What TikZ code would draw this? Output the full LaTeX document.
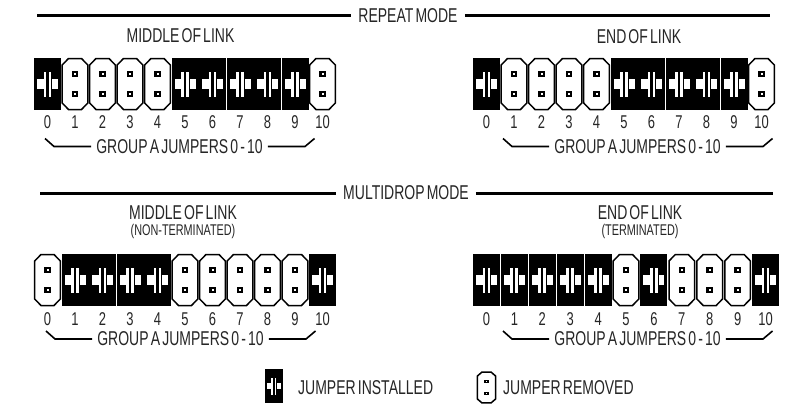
\documentclass[tikz,border=0pt]{standalone}
\usepackage{fontspec}
\setmainfont[FakeStretch=0.70,WordSpace=0.55]{Liberation Sans}
\tikzset{
  x=1pt,y=-1pt,
  rule/.style={line width=3pt,black},
  brack/.style={line width=1.6pt,black},
  lab/.style={inner sep=0pt,font=\fontsize{20}{20}\selectfont,text=black!85},
  sublab/.style={inner sep=0pt,font=\fontsize{15.5}{16}\selectfont,text=black!85},
  num/.style={inner sep=0pt,font=\fontsize{18.5}{18.5}\selectfont,text=black!85},
  Jon/.pic={
    \fill[black] (-13.5,-26) rectangle (13.5,26);
    \fill[white] (-10.5,-5) rectangle (-1.2,4.5);
    \fill[white] (-4,-12) rectangle (-1.2,13);
    \fill[white] (1,-12) rectangle (3.6,13);
    \fill[white] (4.6,-5) rectangle (10.5,4.5);
  },
  Joff/.pic={
    \draw[line width=1.5pt,draw=black,fill=white] (-6.5,-25.5) -- (6.5,-25.5) -- (12.8,-19) -- (12.8,19) -- (6.5,25.5) -- (-6.5,25.5) -- (-12.8,19) -- (-12.8,-19) -- cycle;
    \fill[black] (-3.3,-13.3) rectangle (3.3,-7.3);
    \fill[black] (-3.3,7) rectangle (3.3,13);
    \fill[white] (-1,-11.2) rectangle (1,-9.4);
    \fill[white] (-1,9.1) rectangle (1,10.9);
  }
}
\newcommand{\jrow}[6]{%
  % #1 prefix, #2 x0, #3 pitch, #4 y centre, #5 y label, #6 list number/type
  \foreach \k/\t in {#6}{%
    \pgfmathsetmacro{\xx}{#2+#3*\k}%
    \pic at (\xx,#4) {\t};
    \node[num] (#1n\k) at (\xx,#5) {\k};
  }%
}
\newcommand{\jbrack}[3]{%
  % #1 prefix, #2 x0, #3 y
  \node[lab,inner xsep=5pt] (#1g) at (#2+134.5,#3) {GROUP A JUMPERS 0 - 10};
  \coordinate (#1a) at (#2,#3-8);
  \coordinate (#1b) at (#2+9,#3);
  \coordinate (#1c) at (#2+260,#3);
  \coordinate (#1d) at (#2+269.5,#3-8);
  \draw[brack] (#1a) -- (#1b) -- (#1g.west);
  \draw[brack] (#1g.east) -- (#1c) -- (#1d);
}
\begin{document}
\begin{tikzpicture}
\useasboundingbox (0,0) rectangle (791,404);
\fill[white] (0,0) rectangle (791,404);
% section rules
\node[lab,inner xsep=7pt] (rm) at (408,16) {REPEAT MODE};
\coordinate (rmL) at (37,16); \coordinate (rmR) at (770,16);
\draw[rule] (rmL) -- (rm.west);
\draw[rule] (rm.east) -- (rmR);
\node[lab,inner xsep=7pt] (mm) at (406,193) {MULTIDROP MODE};
\coordinate (mmL) at (40,193); \coordinate (mmR) at (773,193);
\draw[rule] (mmL) -- (mm.west);
\draw[rule] (mm.east) -- (mmR);
% headings
\node[lab] (h1) at (180.5,35.5) {MIDDLE OF LINK};
\node[lab] (h2) at (639,36.5) {END OF LINK};
\node[lab] (h3) at (183,213) {MIDDLE OF LINK};
\node[sublab] (s3) at (183,231) {(NON-TERMINATED)};
\node[lab] (h4) at (640,213) {END OF LINK};
\node[sublab] (s4) at (640,231) {(TERMINATED)};
% jumper rows
\jrow{a}{47.5}{27.5}{84}{122}{0/Jon,1/Joff,2/Joff,3/Joff,4/Joff,5/Jon,6/Jon,7/Jon,8/Jon,9/Jon,10/Joff}
\jrow{b}{486.5}{27.5}{84}{122}{0/Jon,1/Joff,2/Joff,3/Joff,4/Joff,5/Jon,6/Jon,7/Jon,8/Jon,9/Jon,10/Joff}
\jrow{c}{47.5}{27.5}{280}{319}{0/Joff,1/Jon,2/Jon,3/Jon,4/Jon,5/Joff,6/Joff,7/Joff,8/Joff,9/Joff,10/Jon}
\jrow{d}{486.5}{27.9}{280}{319}{0/Jon,1/Jon,2/Jon,3/Jon,4/Jon,5/Joff,6/Jon,7/Joff,8/Joff,9/Joff,10/Jon}
% brackets
\jbrack{a}{45}{146.5}
\jbrack{b}{503}{146.5}
\jbrack{c}{46}{339}
\jbrack{d}{503}{339}
% legend
\pic[scale=.66] at (274,386) {Jon};
\node[lab,anchor=west] (li) at (298,388) {JUMPER INSTALLED};
\pic[xscale=.72,yscale=.6] at (486.5,387.5) {Joff};
\node[lab,anchor=west] (lr) at (503,388) {JUMPER REMOVED};
\end{tikzpicture}
\end{document}
